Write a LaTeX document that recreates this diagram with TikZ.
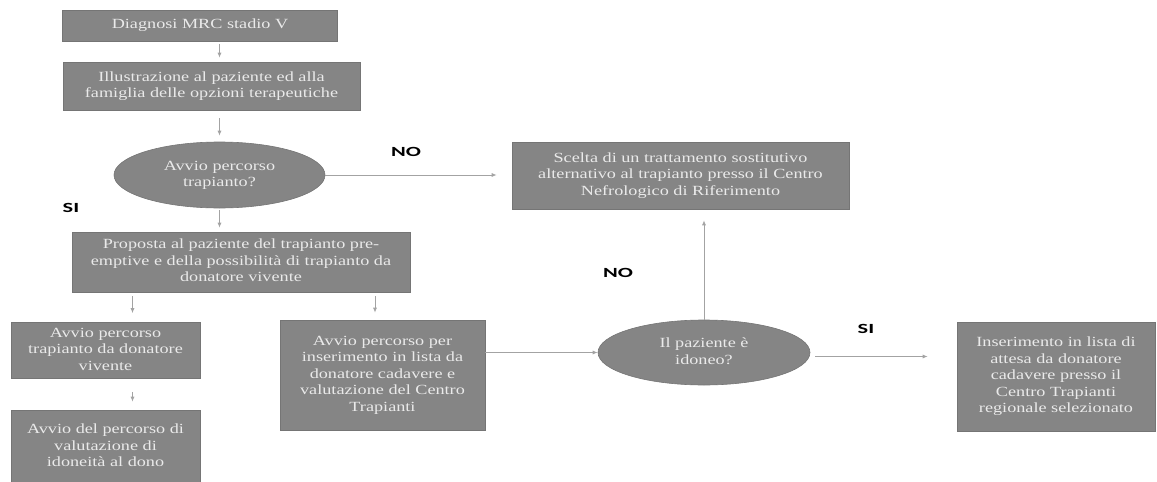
\documentclass[tikz,border=0pt]{standalone}
\usepackage{fontspec}
\usepackage{graphicx}
\usetikzlibrary{arrows.meta,positioning,shapes.geometric}
\setmainfont{Liberation Serif}
\newfontfamily\tagfont{Carlito}
\definecolor{boxfill}{HTML}{858585}
\definecolor{boxtext}{HTML}{EAEAEA}
\definecolor{wire}{HTML}{A3A3A3}
\tikzset{
  box/.style={fill=boxfill, draw=boxfill!88!black, line width=0.6pt, align=center,
    inner sep=0pt, text=boxtext, font=\fontsize{14}{16.5}\selectfont},
  choice/.style={box, ellipse},
  tag/.style={font=\tagfont\bfseries\fontsize{14}{14}\selectfont},
  flow/.style={-{Latex[length=5pt,width=4pt]}, line width=0.8pt, draw=wire},
}
% the scanned lettering is wide and low
\newcommand{\wide}[1]{\scalebox{1.3}[1]{\begin{tabular}{@{}c@{}}#1\end{tabular}}}
\newcommand{\answer}[1]{\scalebox{1.6}[1]{#1}}

\begin{document}
\begin{tikzpicture}[x=1pt, y=-1pt]
    \useasboundingbox (0,0) rectangle (1157,482);
    % left column
    \node[box, minimum width=275pt, minimum height=31pt] (diag) at (200,25.5) {\wide{Diagnosi MRC stadio V}};
    \node[box, minimum width=297pt, minimum height=48pt] (illu) at (211.5,86) {\wide{Illustrazione al paziente ed alla\\famiglia delle opzioni terapeutiche}};
    \node[choice, minimum width=211pt, minimum height=66pt] (avvio) at (219.5,175) {\wide{Avvio percorso\\trapianto?}};
    \node[box, minimum width=338pt, minimum height=60pt] (prop) at (241,262) {\wide{Proposta al paziente del trapianto pre-\\emptive e della possibilità di trapianto da\\donatore vivente}};
    \node[box, minimum width=189pt, minimum height=56pt] (vivo) at (105.5,350.5) {\wide{Avvio percorso\\trapianto da donatore\\vivente}};
    \node[box, minimum width=189pt, minimum height=74pt] (dono) at (105.5,447) {\wide{Avvio del percorso di\\valutazione di\\idoneità al dono}};
    \node[box, minimum width=205pt, minimum height=110pt] (cada) at (382.5,375) {\wide{Avvio percorso per\\inserimento in lista da\\donatore cadavere e\\valutazione del Centro\\Trapianti}};
    % right part
    \node[choice, minimum width=212pt, minimum height=65pt] (idon) at (704,352.5) {\wide{Il paziente è\\idoneo?}};
    \node[box, minimum width=337pt, minimum height=67pt] (alt) at (680.5,175.5) {\wide{Scelta di un trattamento sostitutivo\\alternativo al trapianto presso il Centro\\Nefrologico di Riferimento}};
    \node[box, minimum width=198pt, minimum height=109pt] (lista) at (1056,376.5) {\wide{Inserimento in lista di\\attesa da donatore\\cadavere presso il\\Centro Trapianti\\regionale selezionato}};
    % answers
    \node[tag] (no1) at (406,151.5) {\answer{NO}};
    \node[tag] (si1) at (71,208) {\answer{SI}};
    \node[tag] (no2) at (618,272.5) {\answer{NO}};
    \node[tag] (si2) at (866,329) {\answer{SI}};
    % connectors
    \draw[flow, shorten <=2.5pt, shorten >=4pt] (diag.south -| avvio.north) -- (illu.north -| avvio.north);
    \draw[flow, shorten <=8pt, shorten >=6pt] (illu.south -| avvio.north) -- (avvio.north);
    \draw[flow, shorten <=2pt, shorten >=4pt] (avvio.south) -- (avvio.south |- prop.north);
    \draw[flow, shorten <=4pt, shorten >=9pt] ([xshift=27pt]vivo.north |- prop.south) -- ([xshift=27pt]vivo.north);
    \draw[flow, shorten <=4pt, shorten >=7pt] ([xshift=-7.5pt]cada.north |- prop.south) -- ([xshift=-7.5pt]cada.north);
    \draw[flow, shorten <=13pt, shorten >=8pt] ([xshift=27pt]vivo.south) -- ([xshift=27pt]dono.north);
    \draw[flow, shorten >=15pt] (avvio.east) -- (avvio.east -| alt.west);
    \draw[flow] (cada.east |- idon.west) -- (idon.west);
    \draw[flow, shorten >=11pt] (idon.north) -- (idon.north |- alt.south);
    \draw[flow, shorten <=5pt, shorten >=29pt] ([yshift=-4pt]idon.east) -- ([yshift=-4pt]idon.east -| lista.west);
\end{tikzpicture}
\end{document}
